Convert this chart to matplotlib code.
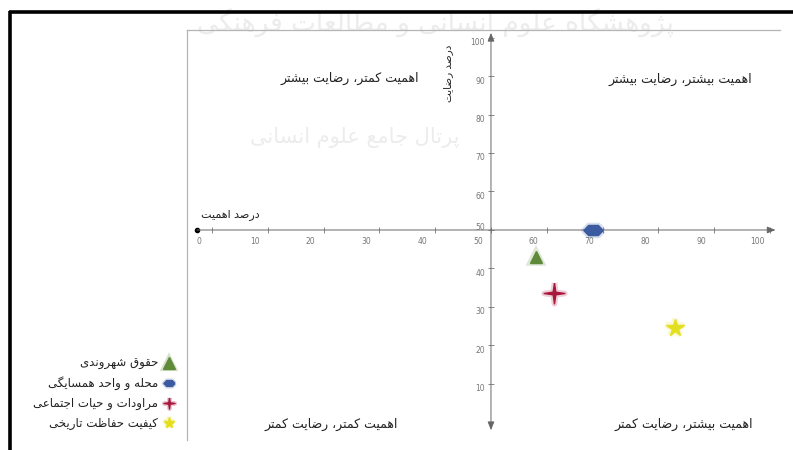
import numpy as np
import matplotlib
matplotlib.use("Agg")
import matplotlib.pyplot as plt
import matplotlib.transforms as mtransforms

plt.rcParams['font.family'] = ['DejaVu Sans']

# data
categories = ['حقوق شهروندی', 'محله و واحد همسایگی', 'مراودات و حیات اجتماعی', 'کیفیت حفاظت تاریخی']
importance = [58.0, 68.3, 61.3, 83.0]      # درصد اهمیت
satisfaction = [43.0, 50.0, 33.6, 24.5]    # درصد رضایت
colors = ['#5f8a3a', '#3b5aa0', '#a8183c', '#e4df1e']

tick_values = list(range(0, 101, 10))
quadrant_labels = ['اهمیت کمتر، رضایت بیشتر', 'اهمیت بیشتر، رضایت بیشتر',
                   'اهمیت کمتر، رضایت کمتر', 'اهمیت بیشتر، رضایت کمتر']
x_title = 'درصد اهمیت'
y_title = 'درصد رضایت'
watermark = ['پژوهشگاه علوم انسانی و مطالعات فرهنگی', 'پرتال جامع علوم انسانی']

# matplotlib does no arabic shaping, so pick the joined glyph forms by hand
# (isolated, final, initial, medial); None = letter does not join to the next one
FORMS = {
    'ا': ('\uFE8D', '\uFE8E', None, None),
    'ب': ('\uFE8F', '\uFE90', '\uFE91', '\uFE92'),
    'پ': ('\uFB56', '\uFB57', '\uFB58', '\uFB59'),
    'ت': ('\uFE95', '\uFE96', '\uFE97', '\uFE98'),
    'ج': ('\uFE9D', '\uFE9E', '\uFE9F', '\uFEA0'),
    'ح': ('\uFEA1', '\uFEA2', '\uFEA3', '\uFEA4'),
    'خ': ('\uFEA5', '\uFEA6', '\uFEA7', '\uFEA8'),
    'د': ('\uFEA9', '\uFEAA', None, None),
    'ر': ('\uFEAD', '\uFEAE', None, None),
    'ز': ('\uFEAF', '\uFEB0', None, None),
    'ژ': ('\uFB8A', '\uFB8B', None, None),
    'س': ('\uFEB1', '\uFEB2', '\uFEB3', '\uFEB4'),
    'ش': ('\uFEB5', '\uFEB6', '\uFEB7', '\uFEB8'),
    'ص': ('\uFEB9', '\uFEBA', '\uFEBB', '\uFEBC'),
    'ض': ('\uFEBD', '\uFEBE', '\uFEBF', '\uFEC0'),
    'ط': ('\uFEC1', '\uFEC2', '\uFEC3', '\uFEC4'),
    'ظ': ('\uFEC5', '\uFEC6', '\uFEC7', '\uFEC8'),
    'ع': ('\uFEC9', '\uFECA', '\uFECB', '\uFECC'),
    'ف': ('\uFED1', '\uFED2', '\uFED3', '\uFED4'),
    'ق': ('\uFED5', '\uFED6', '\uFED7', '\uFED8'),
    'ل': ('\uFEDD', '\uFEDE', '\uFEDF', '\uFEE0'),
    'م': ('\uFEE1', '\uFEE2', '\uFEE3', '\uFEE4'),
    'ن': ('\uFEE5', '\uFEE6', '\uFEE7', '\uFEE8'),
    'ه': ('\uFEE9', '\uFEEA', '\uFEEB', '\uFEEC'),
    'و': ('\uFEED', '\uFEEE', None, None),
    'ک': ('\uFB8E', '\uFB8F', '\uFB90', '\uFB91'),
    'گ': ('\uFB92', '\uFB93', '\uFB94', '\uFB95'),
    'ی': ('\uFBFC', '\uFBFD', '\uFBFE', '\uFBFF'),
}


def fa(s):
    out = []
    for i, ch in enumerate(s):
        if ch not in FORMS:
            out.append(ch)
            continue
        prev = s[i - 1] if i > 0 else ''
        nxt = s[i + 1] if i + 1 < len(s) else ''
        join_prev = prev in FORMS and FORMS[prev][2] is not None
        join_next = FORMS[ch][2] is not None and nxt in FORMS
        if join_prev and join_next:
            out.append(FORMS[ch][3])
        elif join_prev:
            out.append(FORMS[ch][1])
        elif join_next:
            out.append(FORMS[ch][2])
        else:
            out.append(FORMS[ch][0])
    return ''.join(out)[::-1]


W, H = 793, 450
fig = plt.figure(figsize=(W / 100, H / 100), dpi=100)

# page layer in pixel units (frame, watermark, legend)
lax = fig.add_axes([0, 0, 1, 1], zorder=0)
lax.set_xlim(0, W)
lax.set_ylim(H, 0)
lax.axis('off')
lax.text(435, 22, fa(watermark[0]), fontsize=19, color='#ececec', ha='center', va='center', zorder=1)
lax.text(355, 138, fa(watermark[1]), fontsize=15, color='#ececec', ha='center', va='center', zorder=1)
lax.plot([10, 10], [11, H], color='black', lw=2.6, solid_capstyle='butt', zorder=3)
lax.plot([9, W], [12, 12], color='black', lw=2.6, solid_capstyle='butt', zorder=3)

# chart
ax = fig.add_axes([187 / W, 10 / H, 593 / W, 410 / H], zorder=1)
ax.set_facecolor('none')
ax.set_xlim(-4.48, 101.8)
ax.set_ylim(-4.55, 101.95)
for side in ['right', 'bottom']:
    ax.spines[side].set_visible(False)
for side in ['top', 'left']:
    ax.spines[side].set_color('#b5b5b5')
    ax.spines[side].set_linewidth(0.9)
ax.set_xticks([])
ax.set_yticks([])

# the two crossing axes
ax.annotate('', xy=(101.0, 50), xytext=(-2.7, 50),
            arrowprops=dict(arrowstyle='-|>,head_length=0.5,head_width=0.2',
                            color='#666666', lw=0.7, shrinkA=0, shrinkB=0))
ax.plot([-2.7], [50], 'o', color='black', ms=3)
ax.annotate('', xy=(50, 101.2), xytext=(50, -2.0),
            arrowprops=dict(arrowstyle='<|-|>,head_length=0.5,head_width=0.2',
                            color='#666666', lw=0.7, shrinkA=0, shrinkB=0))

ax.plot(tick_values, [50] * len(tick_values), '|', color='#888888', ms=4, mew=0.7)
y_ticks = [v for v in tick_values if v > 0]
ax.plot([50] * len(y_ticks), y_ticks, '_', color='#888888', ms=4, mew=0.7)

xlab_tr = mtransforms.offset_copy(ax.transData, fig=fig, x=-13, y=-12, units='dots')
for v in tick_values:
    ax.text(v, 50, str(v), transform=xlab_tr, fontsize=5.5, color='#777777', ha='center', va='center')
ylab_tr = mtransforms.offset_copy(ax.transData, fig=fig, x=-6, y=-5, units='dots')
ylab_mid = mtransforms.offset_copy(ax.transData, fig=fig, x=-6, y=2, units='dots')
for v in y_ticks:
    ax.text(50, v, str(v), transform=ylab_mid if v == 50 else ylab_tr,
            fontsize=5.5, color='#777777', ha='right', va='center')

ax.text(3.2, 53.9, fa(x_title), fontsize=8, color='#222222', ha='center', va='center')
ax.text(42.3, 90.8, fa(y_title), fontsize=7.5, color='#222222', ha='center', va='center', rotation=90)

quad_pos = [(24.7, 89.5), (83.9, 89.0), (21.3, -0.6), (84.6, -0.4)]
for (qx, qy), q in zip(quad_pos, quadrant_labels):
    ax.text(qx, qy, fa(q), fontsize=9, color='#222222', ha='center', va='center')

# markers
ellipse = np.column_stack([np.cos(np.linspace(0, 2 * np.pi, 7)), 0.6 * np.sin(np.linspace(0, 2 * np.pi, 7))])
star4 = [(0, 1), (0.13, 0.13), (1, 0), (0.13, -0.13), (0, -1), (-0.13, -0.13), (-1, 0), (-0.13, 0.13), (0, 1)]
markers = ['^', ellipse, star4, '*']
sizes = [9, 14, 15, 13]

for xi, yi, c, m, s in zip(importance, satisfaction, colors, markers, sizes):
    ax.plot(xi, yi, marker=m, color=c, ms=s, mec=c, ls='none', alpha=0.2, mew=4)
    ax.plot(xi, yi, marker=m, color=c, ms=s, mec=c, ls='none', zorder=5)

# legend (right-to-left: text, then the marker on the right)
leg_y = [363, 383, 403, 423]
for yy, name, c, m in zip(leg_y, categories, colors, markers):
    lax.plot(169, yy, marker=m, color=c, mec=c, ms=8, ls='none', alpha=0.25, mew=3)
    lax.plot(169, yy, marker=m, color=c, mec=c, ms=8, ls='none')
    lax.text(158, yy, fa(name), fontsize=8.5, color='#222222', ha='right', va='center')

fig.savefig('out.png', dpi=100)
